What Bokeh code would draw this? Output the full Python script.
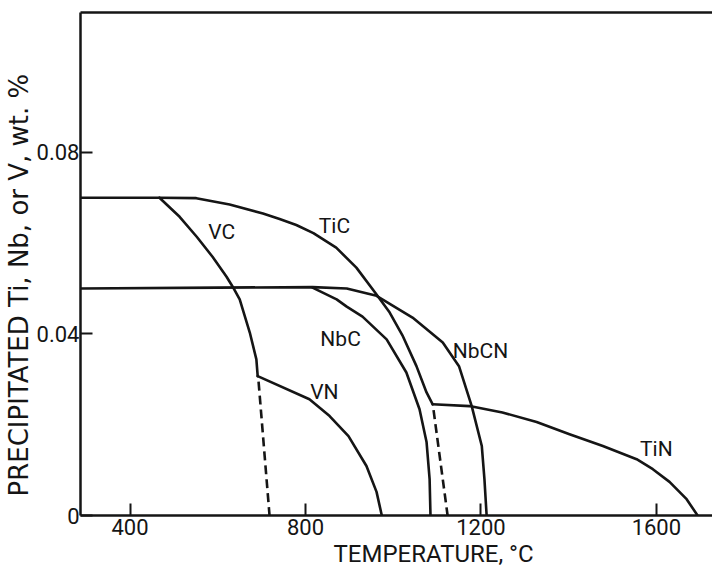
from bokeh.core.properties import value
from bokeh.embed import file_html
from bokeh.models import FixedTicker, LinearAxis, Range1d, Title
from bokeh.plotting import figure
from bokeh.resources import INLINE

# Precipitated amount of each microalloy phase vs. temperature (wt.%)
tic_t = [287, 467, 551, 627, 703, 741, 779, 818, 870, 916, 962, 992, 1021, 1053, 1076, 1090]
tic_w = [0.0700, 0.0700, 0.0699, 0.0685, 0.0665, 0.0653, 0.0640, 0.0622, 0.0590, 0.0546,
         0.0487, 0.0447, 0.0397, 0.0329, 0.0271, 0.0245]

vc_t = [467, 513, 552, 588, 620, 634, 650, 673, 688, 691]
vc_w = [0.0700, 0.0658, 0.0614, 0.0570, 0.0526, 0.0504, 0.0476, 0.0403, 0.0344, 0.0307]

vn_t = [691, 809, 855, 898, 939, 962, 974]
vn_w = [0.0307, 0.0256, 0.0219, 0.0175, 0.0109, 0.0052, 0.0]

nbc_t = [816, 871, 894, 930, 985, 1030, 1060, 1076, 1083, 1085]
nbc_w = [0.0502, 0.0476, 0.0460, 0.0438, 0.0388, 0.0315, 0.0234, 0.0162, 0.0080, 0.0]

nbcn_t = [287, 600, 816, 894, 962, 1044, 1113, 1150, 1179, 1202, 1208, 1213]
nbcn_w = [0.0500, 0.0502, 0.0503, 0.0500, 0.0484, 0.0436, 0.0381, 0.0329, 0.0241, 0.0153,
          0.0080, 0.0]

tin_t = [1090, 1174, 1249, 1327, 1402, 1478, 1555, 1592, 1630, 1669, 1694]
tin_w = [0.0245, 0.0241, 0.0227, 0.0206, 0.0179, 0.0153, 0.0124, 0.0102, 0.0074, 0.0036, 0.0]

# metastable continuations (dashed)
vc_dash_t = [693, 718]
vc_dash_w = [0.0295, 0.0]
tic_dash_t = [1092, 1124]
tic_dash_w = [0.0232, 0.0]

# curve labels
phase_names = ["VC", "TiC", "NbC", "VN", "NbCN", "TiN"]
phase_label_t = [609, 866, 880, 843, 1199, 1600]
phase_label_w = [0.0625, 0.0638, 0.0388, 0.0271, 0.0362, 0.0146]

x_ticks = [400, 800, 1200, 1600]
y_ticks = [0, 0.04, 0.08]
y_tick_labels = ["0", "0.04", "0.08"]

INK = "#151515"
FONT = "Roboto"
YFONT = "DejaVu Sans"

p = figure(
    width=712, height=567,
    x_range=Range1d(287, 1728), y_range=Range1d(0, 0.1108),
    output_backend="svg", toolbar_location=None,
    min_border_left=80, min_border_right=0, min_border_top=12, min_border_bottom=51,
    x_axis_type=None, y_axis_type=None,
)
p.outline_line_color = None
p.grid.visible = False
p.background_fill_color = "white"
p.border_fill_color = "white"

xaxis = LinearAxis(ticker=FixedTicker(ticks=x_ticks))
yaxis = LinearAxis(ticker=FixedTicker(ticks=y_ticks),
                   major_label_overrides={t: s for t, s in zip(y_ticks, y_tick_labels)})
top = LinearAxis(ticker=FixedTicker(ticks=[]))
for ax in (xaxis, yaxis, top):
    ax.axis_line_color = INK
    ax.axis_line_width = 2.5
    ax.major_tick_line_color = INK
    ax.major_tick_line_width = 2
    ax.major_tick_in = 12
    ax.major_tick_out = 0
    ax.minor_tick_line_color = None
    ax.major_label_text_font = FONT
    ax.major_label_text_font_size = "22px"
    ax.major_label_text_color = INK
xaxis.major_label_standoff = 3
yaxis.major_label_standoff = 1
top.major_label_text_font_size = "0px"
p.add_layout(xaxis, "below")
p.add_layout(yaxis, "left")
p.add_layout(top, "above")

# axis titles, placed by offset from the frame corner
p.add_layout(Title(text="TEMPERATURE, °C", align="left", offset=253, standoff=0,
                   text_font=FONT, text_font_style="normal", text_font_size="24px",
                   text_color=INK), "below")
p.add_layout(Title(text="PRECIPITATED Ti, Nb, or V, wt. %", align="left", offset=19,
                   standoff=0, text_font=YFONT, text_font_style="normal",
                   text_font_size="26px", text_color=INK), "left")

line_kw = dict(line_color=INK, line_width=2.6, line_join="round", line_cap="round")
for t, w in [(tic_t, tic_w), (vc_t, vc_w), (vn_t, vn_w), (nbc_t, nbc_w),
             (nbcn_t, nbcn_w), (tin_t, tin_w)]:
    p.line(t, w, **line_kw)
for t, w in [(vc_dash_t, vc_dash_w), (tic_dash_t, tic_dash_w)]:
    p.line(t, w, line_color=INK, line_width=2.6, line_dash="9 5")

p.text(phase_label_t, phase_label_w, text=phase_names,
       text_font=value(FONT), text_font_size="21px",
       text_color=INK, text_align="center", text_baseline="middle")

open("out.html", "w").write(file_html(p, INLINE))
